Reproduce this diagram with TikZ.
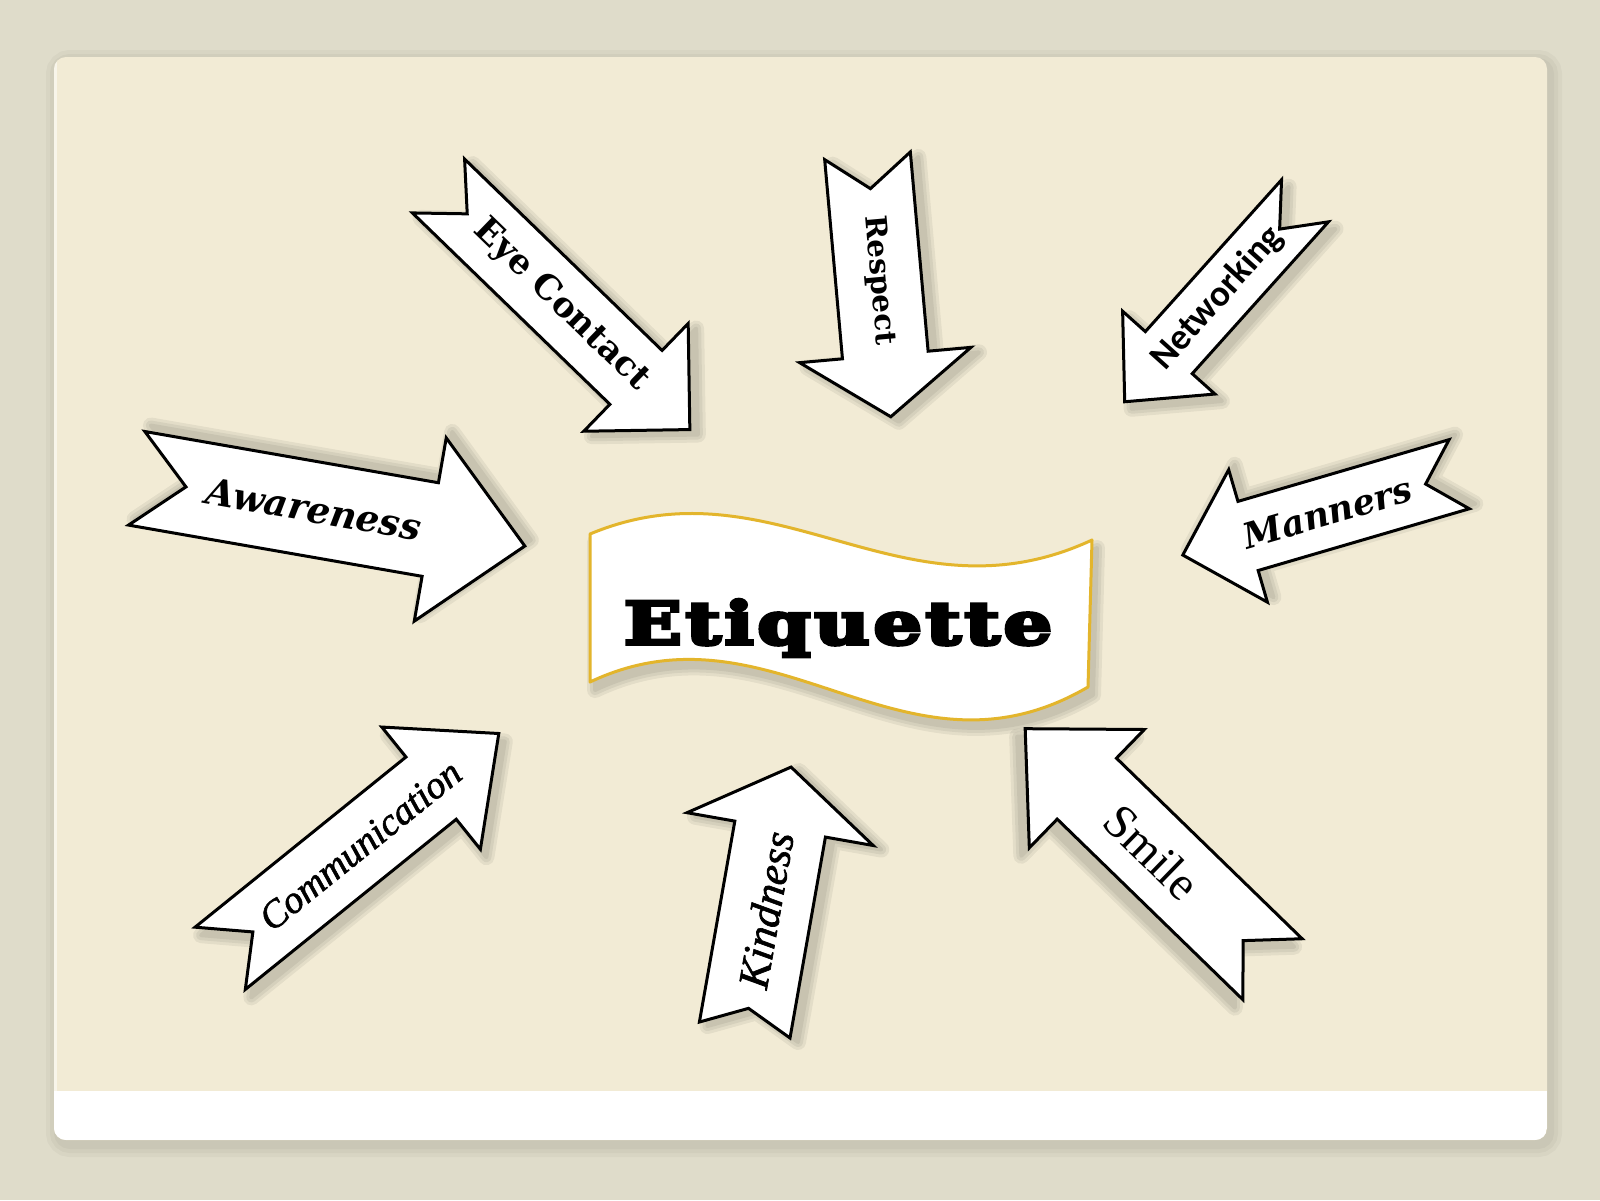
\documentclass[tikz,border=0pt]{standalone}
\usepackage{fontspec}
\usepackage{graphicx}
\setmainfont{Liberation Serif}
\newfontfamily\dvserif{DejaVu Serif}
\newfontfamily\carlito{Carlito}
\newfontfamily\libserif{Liberation Serif}
\newfontface\libitb{Liberation Serif Italic}[FakeBold=1.5]
\newfontface\etiqf{DejaVu Serif Bold}[FakeBold=5.5, LetterSpace=5]
\definecolor{outerbg}{HTML}{DFDCCA}
\definecolor{cardbg}{HTML}{F2EBD5}
\definecolor{gold}{HTML}{E3B52C}
\tikzset{
  arrowbox/.style={draw=black, fill=white, line width=3pt, line join=miter},
  lbl/.style={inner sep=0pt, text=black},
  banner/.style={draw=gold, fill=white, line width=3pt, line join=round},
}
\pgfkeys{/arr/.cd,
  L/.store in=\aL, sw/.store in=\aSW, hw/.store in=\aHW, hl/.store in=\aHL,
  nd/.store in=\aND, lp/.store in=\aLP, ta/.store in=\aTA,
  sx/.store in=\aSx, sy/.store in=\aSy}
\newcommand\etiqarrow[5]{%
  \pgfkeys{/arr/.cd,#1}%
  \pgfmathsetmacro\ahs{\aSW/2}%
  \pgfmathsetmacro\ahh{\aHW/2}%
  \pgfmathsetmacro\aB{\aL-\aHL}%
  \def\apath{(0,\ahs) -- (\aB,\ahs) -- (\aB,\ahh) -- (\aL,0) -- (\aB,-\ahh) -- (\aB,-\ahs) -- (0,-\ahs) -- (\aND,0) -- cycle}%
  \begin{scope}[shift={#3}, shift={(\aSx,\aSy)}, rotate=#4]
    \foreach \w in {16,10,4}{%
      \begin{scope}[transparency group, opacity=0.06]
        \filldraw[black, line width=\w pt, line join=round] \apath;
      \end{scope}}
  \end{scope}
  \begin{scope}[shift={#3}, rotate=#4]
    \draw[arrowbox] \apath;
    \node[lbl, rotate=\aTA] (#2) at (\aLP,0) {#5};
  \end{scope}}
\begin{document}
\begin{tikzpicture}[x=1pt,y=-1pt]
\useasboundingbox (0,0) rectangle (1600,1200);
\fill[outerbg] (0,0) rectangle (1600,1200);
% card shadow
\foreach \w in {24,16,8}{%
  \begin{scope}[transparency group, opacity=0.03]
    \filldraw[black, line width=\w pt, rounded corners=12pt] (58,62) rectangle (1550,1145);
  \end{scope}}
\fill[cardbg, rounded corners=12pt] (54,57) rectangle (1547,1140);
\begin{scope}
  \clip[rounded corners=12pt] (54,57) rectangle (1547,1140);
  \fill[white] (54,1091) rectangle (1547,1140);
  \fill[white, opacity=0.5] (54,57) rectangle (57,1140);
\end{scope}
% banner
\def\bannerpath{(590,534) .. controls (774,457) and (903,628) .. (1092,540) -- (1088,687) .. controls (903,795) and (774,595) .. (590,682) -- cycle}
\begin{scope}[shift={(5,8)}]
  \foreach \w in {16,10,4}{%
    \begin{scope}[transparency group, opacity=0.06]
      \filldraw[black, line width=\w pt, line join=round] \bannerpath;
    \end{scope}}
\end{scope}
\path[banner] \bannerpath;
\node[lbl] (etiq) at (838,628) {\resizebox{428pt}{45pt}{\etiqf Etiquette}};
% arrows
\etiqarrow{L=350,sw=75,hw=150,hl=75,nd=40,lp=171,ta=-44.1,sx=8,sy=5}{eye}{(438.5,186)}{-44.1}{\resizebox{230pt}{!}{\dvserif\bfseries Eye Contact}}
\etiqarrow{L=262,sw=86,hw=172,hl=62,nd=33,lp=125,ta=-84.9,sx=8,sy=5}{respect}{(867.5,155.8)}{-84.9}{\resizebox{130pt}{!}{\dvserif\bfseries Respect}}
\etiqarrow{L=270,sw=63,hw=124,hl=66,nd=38,lp=131,ta=48.1,sx=7,sy=7}{network}{(1305,200.8)}{-131.9}{\resizebox{179pt}{!}{\carlito\bfseries Networking}}
\etiqarrow{L=394,sw=95,hw=186,hl=96,nd=50,lp=180,ta=-9.9,sx=6,sy=-6}{aware}{(136.7,478.3)}{-9.9}{\resizebox{217pt}{!}{\dvserif\bfseries\itshape Awareness}}
\etiqarrow{L=288,sw=72,hw=138,hl=68,nd=35,lp=137,ta=16.3,sx=6,sy=-5}{manners}{(1459.2,474.2)}{196.3}{\resizebox{174pt}{!}{\dvserif\bfseries\itshape Manners}}
\etiqarrow{L=358,sw=80,hw=157,hl=87,nd=42,lp=180,ta=38.9,sx=6,sy=8}{comm}{(220.2,958.3)}{38.9}{\resizebox{247pt}{!}{\libitb Communication}}
\etiqarrow{L=267,sw=92,hw=189,hl=63,nd=22,lp=122,ta=80,sx=8,sy=4}{kind}{(744.7,1030)}{80}{\resizebox{158pt}{!}{\libitb Kindness}}
\etiqarrow{L=345,sw=85,hw=165,hl=86,nd=41,lp=168,ta=-44.2,sx=-8,sy=8}{smile}{(1272.5,969.2)}{135.8}{\resizebox{112pt}{!}{\libserif Smile}}
\end{tikzpicture}
\end{document}
